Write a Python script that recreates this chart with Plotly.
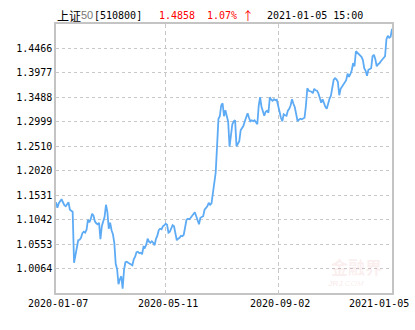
import plotly.graph_objects as go

# ---- data ----
fund_name = "上证"
fund_num = "50"
fund_code = "[510800]"
last_price = "1.4858"
pct_change = "1.07%"
direction = "↑"
timestamp = "2021-01-05 15:00"

nav = [
    1.139, 1.128, 1.137, 1.141, 1.145, 1.139, 1.133, 1.131, 1.135, 1.139,
    1.124, 1.122, 1.120, 1.018, 1.036, 1.052, 1.063, 1.064, 1.068, 1.077,
    1.080, 1.078, 1.084, 1.104, 1.099, 1.105, 1.116, 1.112, 1.101, 1.097,
    1.095, 1.098, 1.065, 1.091, 1.101, 1.110, 1.134, 1.120, 1.086, 1.098,
    1.083, 1.075, 1.058, 1.016, 1.005, 0.975, 0.985, 0.991, 0.966, 1.004,
    1.019, 1.020, 1.018, 1.016, 1.015, 1.013, 1.025, 1.030, 1.039, 1.040,
    1.037, 1.038, 1.035, 1.050, 1.048, 1.054, 1.066, 1.060, 1.058, 1.061,
    1.058, 1.053, 1.066, 1.072, 1.083, 1.086, 1.085, 1.091, 1.093, 1.096,
    1.094, 1.078, 1.080, 1.086, 1.093, 1.091, 1.074, 1.063, 1.066, 1.068,
    1.072, 1.071, 1.074, 1.090, 1.104, 1.106, 1.105, 1.108, 1.112, 1.116,
    1.119, 1.111, 1.104, 1.095, 1.108, 1.110, 1.111, 1.124, 1.128, 1.131,
    1.138, 1.134, 1.137, 1.160, 1.180, 1.198, 1.251, 1.306, 1.311, 1.333,
    1.337, 1.311, 1.323, 1.313, 1.300, 1.250, 1.268, 1.295, 1.301, 1.303,
    1.251, 1.255, 1.261, 1.283, 1.288, 1.292, 1.301, 1.312, 1.317, 1.308,
    1.301, 1.303, 1.301, 1.303, 1.299, 1.295, 1.332, 1.349, 1.330, 1.318,
    1.312, 1.320, 1.322, 1.318, 1.349, 1.344, 1.342, 1.345, 1.343, 1.344,
    1.330, 1.322, 1.308, 1.301, 1.315, 1.313, 1.312, 1.322, 1.326, 1.333,
    1.345, 1.336, 1.329, 1.315, 1.301, 1.304, 1.306, 1.305, 1.306, 1.308,
    1.332, 1.367, 1.362, 1.361, 1.360, 1.357, 1.366, 1.363, 1.362, 1.357,
    1.348, 1.338, 1.345, 1.337, 1.330, 1.326, 1.338, 1.346, 1.352, 1.367,
    1.384, 1.387, 1.385, 1.380, 1.353, 1.366, 1.370, 1.373, 1.378, 1.383,
    1.396, 1.390, 1.395, 1.403, 1.417, 1.411, 1.441, 1.438, 1.437, 1.434,
    1.430, 1.424, 1.407, 1.402, 1.392, 1.404, 1.405, 1.407, 1.431, 1.434,
    1.425, 1.411, 1.415, 1.417, 1.421, 1.424, 1.427, 1.431, 1.465, 1.472,
    1.468, 1.4701, 1.4858,
]

x_tick_index = [0, 79, 160, 242]
x_tick_labels = ["2020-01-07", "2020-05-11", "2020-09-02", "2021-01-05"]

y_ticks = [1.0064, 1.0553, 1.1042, 1.1531, 1.2020, 1.2510,
           1.2999, 1.3488, 1.3977, 1.4466]
y_range = [0.9575, 1.4955]

# ---- figure ----
W, H = 415, 330
L, R, T, B = 56, 23, 24, 37
pw = W - L - R
ph = H - T - B

mono = "DejaVu Sans Mono, Liberation Mono, monospace"
grid_col = "#c8c8c8"
border_col = "#c4c4c4"

fig = go.Figure()
fig.add_trace(go.Scatter(
    x=list(range(len(nav))), y=nav, mode="lines",
    line=dict(color="#5eabf5", width=1.8),
    hoverinfo="skip", showlegend=False,
))

fig.update_layout(
    width=W, height=H,
    margin=dict(l=L, r=R, t=T, b=B, pad=0),
    paper_bgcolor="white", plot_bgcolor="white",
    showlegend=False,
)

fig.update_xaxes(
    range=[0, len(nav) - 1],
    tickvals=x_tick_index, showticklabels=False, ticks="",
    showgrid=True, gridcolor=grid_col, griddash="4px,3px", gridwidth=1,
    showline=True, linecolor=border_col, linewidth=1.5, mirror=True,
    zeroline=False,
)
fig.update_yaxes(
    range=y_range,
    tickvals=y_ticks, ticktext=[f"{v:.4f}" for v in y_ticks], ticks="",
    tickfont=dict(family=mono, size=10, color="black"),
    showgrid=True, gridcolor=grid_col, griddash="3px,3px", gridwidth=1,
    showline=True, linecolor=border_col, linewidth=1.5, mirror=True,
    zeroline=False,
)

# x tick labels as annotations (last one kept inside the canvas)
for i, (xi, lab) in enumerate(zip(x_tick_index, x_tick_labels)):
    last = i == len(x_tick_index) - 1
    fig.add_annotation(
        x=xi, xref="x", y=0, yref="paper", yanchor="top",
        xanchor="right" if last else "center",
        xshift=19 if last else 2, yshift=-3,
        text=lab, showarrow=False,
        font=dict(family=mono, size=10, color="black"),
    )

def px2paper(px):
    return (px - L) / pw

ty = 1 + (T - 15.5) / ph
title_parts = [
    (55, fund_name, "Noto Sans CJK SC", 12, "black"),
    (79, fund_num, "Liberation Sans Narrow, Liberation Sans", 11, "#777777"),
    (92, fund_code, mono, 10, "black"),
    (157, last_price, mono, 10, "#ff0000"),
    (205, pct_change, mono, 10, "#ff0000"),
    (240, direction, "Noto Sans CJK SC", 12, "#ff0000"),
    (265, timestamp, mono, 10, "black"),
]
for px, txt, fam, sz, col in title_parts:
    fig.add_annotation(
        x=px2paper(px), xref="paper", y=ty, yref="paper",
        xanchor="left", yanchor="middle", text=txt, showarrow=False,
        font=dict(family=fam, size=sz, color=col),
    )

# faint watermark logo
fig.add_annotation(
    x=px2paper(356), xref="paper", y=(H - B - 266) / ph, yref="paper",
    xanchor="center", yanchor="middle", text="<b>金融界</b>", showarrow=False,
    font=dict(family="Noto Sans CJK SC", size=17, color="rgba(220,120,120,0.13)"),
)
fig.add_annotation(
    x=px2paper(346), xref="paper", y=(H - B - 283) / ph, yref="paper",
    xanchor="center", yanchor="middle", text="<i><b>JRJ</b>.COM</i>", showarrow=False,
    font=dict(family="Liberation Sans", size=8, color="rgba(220,120,120,0.15)"),
)

fig.write_html("out.html")
